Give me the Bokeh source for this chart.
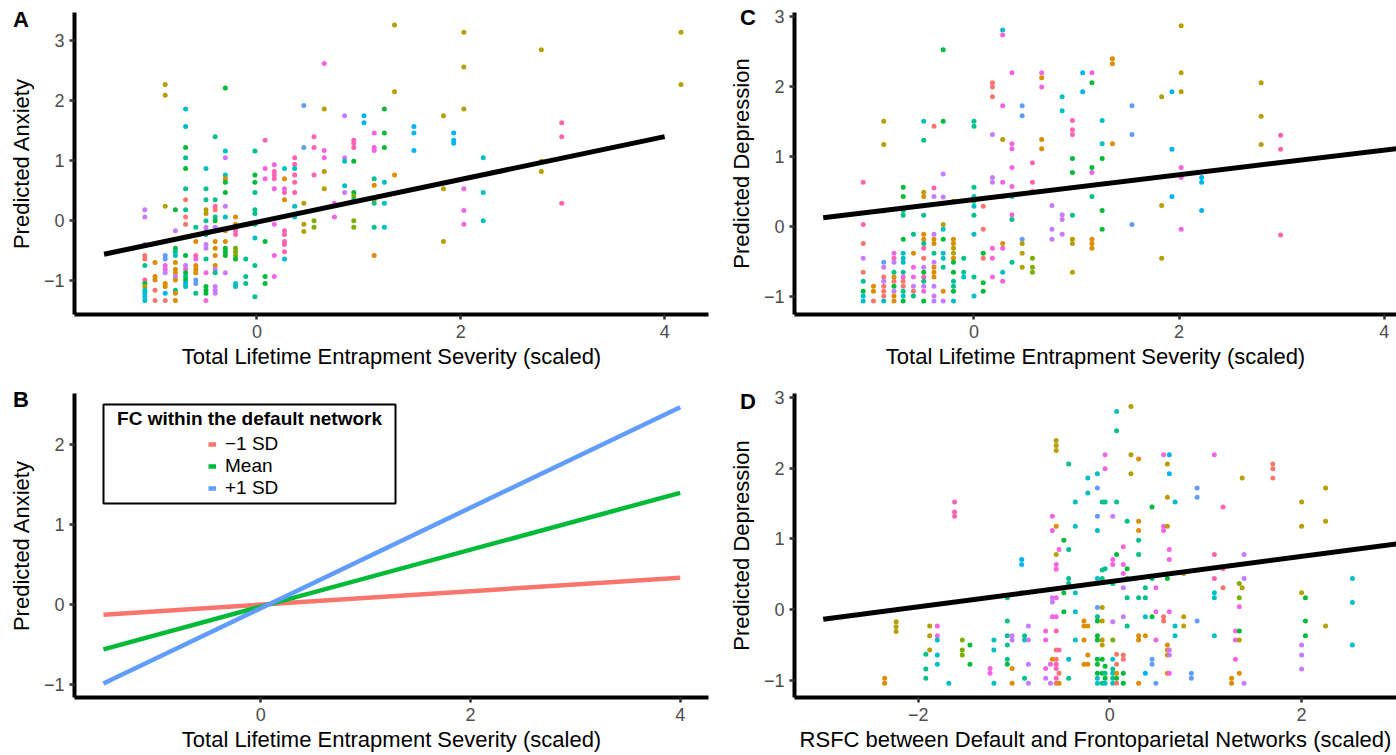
from bokeh.plotting import figure
from bokeh.layouts import column, row
from bokeh.models import (ColumnDataSource, FixedTicker, Label, Legend, LegendItem,
                          BoxAnnotation, Range1d, Div)
from bokeh.embed import file_html
from bokeh.resources import INLINE

FONT = "Liberation Sans"
PALETTE = {"S": "#F8766D", "O": "#DE8C00", "Ol": "#B79F00", "Y": "#7CAE00",
           "G": "#00BA38", "T": "#00C08B", "C": "#00BFC4", "B": "#00B4F0",
           "V": "#619CFF", "L": "#C77CFF", "M": "#F564E3", "P": "#FF64B0"}

# ---------------- Panel A: Predicted Anxiety vs entrapment ----------------
a_x = [
    -1.10, -1.10, -1.10, -1.10, -1.10, -1.10, -1.10, -1.10, -1.10, -1.10, -1.10, -1.10, -1.10,
    -1.00, -1.00, -1.00, -1.00, -1.00,
    -0.90, -0.90, -0.90, -0.90, -0.90, -0.90, -0.90, -0.90, -0.90, -0.90, -0.90, -0.90,
    -0.80, -0.80, -0.80, -0.80, -0.80, -0.80, -0.80, -0.80, -0.80, -0.80, -0.80, -0.80, -0.80,
    -0.70, -0.70, -0.70, -0.70, -0.70, -0.70, -0.70, -0.70, -0.70, -0.70, -0.70, -0.70, -0.70, -0.70, -0.70, -0.70, -0.70, -0.70,
    -0.60, -0.60, -0.60, -0.60, -0.60, -0.60, -0.60, -0.60, -0.60, -0.60,
    -0.50, -0.50, -0.50, -0.50, -0.50, -0.50, -0.50, -0.50, -0.50, -0.50, -0.50, -0.50, -0.50, -0.50, -0.50, -0.50, -0.50,
    -0.41, -0.41, -0.41, -0.41, -0.41, -0.41, -0.41, -0.41, -0.41, -0.41, -0.41, -0.41, -0.41, -0.41, -0.41, -0.41, -0.41,
    -0.31, -0.31, -0.31, -0.31, -0.31, -0.31, -0.31, -0.31, -0.31, -0.31, -0.31, -0.31, -0.31, -0.31, -0.31,
    -0.21, -0.21, -0.21, -0.21, -0.21, -0.21, -0.21, -0.21, -0.21, -0.21,
    -0.11, -0.11, -0.11,
    -0.02, -0.02, -0.02, -0.02, -0.02, -0.02, -0.02, -0.02, -0.02, -0.02,
    0.08, 0.08, 0.08, 0.08, 0.08, 0.08,
    0.17, 0.17, 0.17, 0.17, 0.17, 0.17, 0.17, 0.17,
    0.27, 0.27, 0.27, 0.27, 0.27, 0.27, 0.27, 0.27, 0.27, 0.27, 0.27,
    0.37, 0.37, 0.37, 0.37, 0.37, 0.37, 0.37, 0.37,
    0.46, 0.46, 0.46, 0.46, 0.46,
    0.56, 0.56, 0.56, 0.56, 0.56,
    0.66, 0.66, 0.66, 0.66, 0.66, 0.66,
    0.76, 0.76,
    0.86, 0.86, 0.86, 0.86, 0.86,
    0.95, 0.95, 0.95, 0.95, 0.95, 0.95, 0.95, 0.95, 0.95,
    1.05, 1.05,
    1.15, 1.15, 1.15, 1.15, 1.15, 1.15, 1.15, 1.15, 1.15,
    1.25, 1.25, 1.25, 1.25, 1.25, 1.25,
    1.35, 1.35, 1.35,
    1.54, 1.54, 1.54,
    1.83, 1.83, 1.83,
    1.93, 1.93, 1.93,
    2.03, 2.03, 2.03, 2.03, 2.03, 2.03,
    2.22, 2.22, 2.22,
    2.79, 2.79, 2.79,
    2.99, 2.99, 2.99,
    4.16, 4.16,
]
a_y = [
    0.18, 0.06, -0.40, -0.58, -0.64, -0.75, -0.99, -1.05, -1.10, -1.16, -1.21, -1.27, -1.33,
    -0.70, -0.93, -0.99, -1.16, -1.33,
    2.27, 2.09, 0.24, -0.58, -0.64, -0.75, -0.81, -0.87, -1.05, -1.10, -1.21, -1.33,
    0.18, -0.17, -0.46, -0.52, -0.58, -0.70, -0.81, -0.87, -0.93, -0.99, -1.16, -1.21, -1.33,
    1.86, 1.57, 1.22, 1.05, 0.87, 0.53, 0.35, 0.18, 0.06, -0.06, -0.58, -0.75, -0.81, -0.87, -0.93, -0.99, -1.05, -1.10,
    -0.11, -0.35, -0.58, -0.64, -0.75, -0.81, -0.87, -0.99, -1.05, -1.21,
    0.87, 0.53, 0.35, 0.18, 0.12, 0.00, -0.11, -0.17, -0.23, -0.40, -0.46, -0.64, -0.87, -1.10, -1.16, -1.21, -1.33,
    1.40, 0.35, 0.24, 0.18, 0.06, 0.00, -0.11, -0.17, -0.35, -0.46, -0.58, -0.75, -0.81, -0.87, -1.10, -1.16, -1.21,
    2.21, 1.16, 1.05, 0.76, 0.70, 0.64, 0.47, 0.24, 0.06, -0.17, -0.35, -0.46, -0.52, -0.58, -0.87,
    0.06, -0.06, -0.17, -0.23, -0.46, -0.52, -0.58, -0.64, -1.05, -1.10,
    -0.64, -0.93, -1.05,
    1.16, 0.76, 0.64, 0.47, 0.18, 0.12, -0.06, -0.29, -0.75, -1.27,
    1.34, 0.87, 0.70, -0.35, -0.93, -1.05,
    0.93, 0.82, 0.76, 0.70, 0.53, -0.06, -0.58, -0.93,
    0.87, 0.70, 0.53, 0.47, 0.35, -0.17, -0.23, -0.35, -0.40, -0.52, -0.64,
    1.05, 0.94, 0.87, 0.76, 0.64, 0.47, 0.24, 0.06,
    1.92, 1.22, 0.29, -0.06, -0.18,
    1.40, 1.22, 0.76, 0.00, -0.11,
    2.62, 1.86, 1.17, 1.05, 0.82, 0.53,
    0.29, 0.06,
    1.75, 1.05, 0.99, 0.58, 0.47,
    1.34, 1.29, 1.22, 0.99, 0.47, 0.41, 0.35, 0.00, -0.11,
    1.75, 1.63,
    1.46, 1.22, 1.17, 0.70, 0.59, 0.35, 0.29, -0.11, -0.58,
    1.86, 1.46, 1.22, 0.64, 0.29, -0.11,
    3.26, 2.15, 0.76,
    1.57, 1.46, 1.17,
    1.75, 0.53, -0.35,
    1.46, 1.34, 1.29,
    3.14, 2.56, 1.86, 0.53, 0.17, -0.06,
    1.05, 0.47, 0.00,
    2.85, 0.99, 0.82,
    1.63, 1.40, 0.29,
    3.14, 2.27,
]
a_g = ("L L L S S T P G Ol C C B C "
       "O O O S S "
       "Ol Ol Ol V V M M L O O B S "
       "G L G T C O O O L O T O O "
       "C C G T G T S T S S G L M G T G B C "
       "T O P M O O O V V T "
       "C T T Ol Ol T L L T L L T M G G G M "
       "T T P S T G L M O O O O L T L L L "
       "G C L C O G G L C O O G G G L "
       "O O P P Y Y Y G C C "
       "T T T "
       "T G G T T T T C T T "
       "P M M G G G "
       "M P P P M M M M "
       "C O M P O P P P P P C "
       "P P C P P P C C "
       "V V Ol Ol Ol "
       "P P P Y Y "
       "M Ol M M Ol Ol "
       "M M "
       "L L C C L "
       "P P P G G Y T Y Y "
       "B B "
       "M M M T O Ol T T O "
       "G G G C C C "
       "Ol Ol O "
       "B B B "
       "Ol Ol Ol "
       "B B B "
       "Ol Ol Ol M M M "
       "C C C "
       "Ol Ol Ol "
       "P P P "
       "Ol Ol").split()
a_fit_x = [-1.50, 4.00]
a_fit_y = [-0.56, 1.40]

# ---------------- Panel B: interaction lines ----------------
b_x = [-1.50, 4.00]
b_low_y = [-0.125, 0.336]
b_mean_y = [-0.558, 1.398]
b_high_y = [-0.986, 2.468]
b_labels = ["\u22121 SD", "Mean", "+1 SD"]
b_legend_title = "FC within the default network"

# ---------------- Panel C: Predicted Depression vs entrapment ----------------
c_x = [
    -1.08, -1.08, -1.08, -1.08, -1.08, -1.08, -1.08, -1.08, -1.08,
    -0.98, -0.98, -0.98,
    -0.88, -0.88, -0.88, -0.88, -0.88, -0.88, -0.88, -0.88, -0.88, -0.88, -0.88,
    -0.78, -0.78, -0.78, -0.78, -0.78, -0.78, -0.78, -0.78, -0.78, -0.78,
    -0.69, -0.69, -0.69, -0.69, -0.69, -0.69, -0.69, -0.69, -0.69, -0.69, -0.69, -0.69, -0.69, -0.69, -0.69,
    -0.59, -0.59, -0.59, -0.59, -0.59, -0.59, -0.59,
    -0.49, -0.49, -0.49, -0.49, -0.49, -0.49, -0.49, -0.49, -0.49, -0.49, -0.49, -0.49, -0.49, -0.49, -0.49, -0.49, -0.49,
    -0.39, -0.39, -0.39, -0.39, -0.39, -0.39, -0.39, -0.39, -0.39, -0.39, -0.39, -0.39, -0.39, -0.39,
    -0.30, -0.30, -0.30, -0.30, -0.30, -0.30, -0.30, -0.30, -0.30, -0.30, -0.30, -0.30,
    -0.20, -0.20, -0.20, -0.20, -0.20, -0.20, -0.20, -0.20, -0.20, -0.20, -0.20, -0.20,
    -0.10, -0.10, -0.10,
    0.00, 0.00, 0.00, 0.00, 0.00, 0.00, 0.00, 0.00, 0.00, 0.00,
    0.09, 0.09, 0.09, 0.09, 0.09, 0.09,
    0.18, 0.18, 0.18, 0.18, 0.18, 0.18, 0.18, 0.18, 0.18,
    0.28, 0.28, 0.28, 0.28, 0.28, 0.28, 0.28, 0.28, 0.28, 0.28,
    0.37, 0.37, 0.37, 0.37, 0.37, 0.37, 0.37, 0.37, 0.37,
    0.47, 0.47, 0.47, 0.47, 0.47, 0.47,
    0.57, 0.57, 0.57, 0.57, 0.57, 0.57,
    0.66, 0.66, 0.66, 0.66, 0.66,
    0.76, 0.76, 0.76,
    0.86, 0.86, 0.86, 0.86, 0.86,
    0.96, 0.96, 0.96, 0.96, 0.96, 0.96, 0.96, 0.96, 0.96,
    1.06, 1.06,
    1.15, 1.15, 1.15, 1.15, 1.15, 1.15, 1.15, 1.15,
    1.25, 1.25, 1.25, 1.25, 1.25,
    1.35, 1.35, 1.35,
    1.54, 1.54, 1.54,
    1.83, 1.83, 1.83,
    1.93, 1.93, 1.93,
    2.02, 2.02, 2.02, 2.02, 2.02, 2.02,
    2.22, 2.22, 2.22,
    2.80, 2.80, 2.80,
    2.99, 2.99, 2.99,
]
c_y = [
    0.63, 0.03, -0.24, -0.45, -0.65, -0.78, -0.92, -0.99, -1.06,
    -0.85, -0.92, -1.06,
    1.50, 1.17, 0.22, -0.51, -0.58, -0.72, -0.78, -0.85, -0.92, -0.99, -1.06,
    -0.38, -0.45, -0.51, -0.65, -0.72, -0.78, -0.85, -0.92, -0.99, -1.06,
    0.56, 0.43, 0.23, 0.16, -0.18, -0.38, -0.45, -0.51, -0.65, -0.72, -0.78, -0.85, -0.92, -0.99, -1.06,
    -0.11, -0.38, -0.58, -0.72, -0.85, -0.92, -0.99,
    1.50, 1.23, 0.49, 0.43, 0.16, -0.11, -0.18, -0.24, -0.31, -0.45, -0.58, -0.65, -0.72, -0.78, -0.85, -0.92, -1.06,
    1.43, 0.55, 0.43, -0.11, -0.18, -0.24, -0.38, -0.51, -0.58, -0.65, -0.72, -0.85, -0.99, -1.06,
    2.52, 1.50, 0.75, 0.42, 0.03, -0.04, -0.18, -0.38, -0.45, -0.58, -0.92, -1.06,
    0.36, -0.18, -0.24, -0.31, -0.38, -0.45, -0.51, -0.65, -0.78, -0.85, -0.92, -1.06,
    -0.45, -0.65, -0.72,
    1.50, 1.43, 0.56, 0.43, 0.36, 0.29, 0.16, -0.11, -0.72, -0.99,
    0.29, -0.04, -0.38, -0.45, -0.80, -0.92,
    2.05, 1.99, 1.85, 1.31, 0.70, 0.63, -0.31, -0.45, -0.72,
    2.80, 2.73, 1.72, 1.24, 0.63, 0.43, -0.24, -0.31, -0.65, -0.78,
    2.19, 1.18, 1.11, 0.84, 0.57, 0.43, 0.17, 0.10, -0.51,
    1.72, 1.58, -0.18, -0.24, -0.38, -0.58,
    0.91, 0.63, 0.50, -0.45, -0.58, -0.65,
    2.19, 2.12, 1.99, 1.24, 1.11,
    0.30, -0.04, -0.18,
    1.85, 1.65, 0.17, 0.10, -0.11,
    1.51, 1.38, 1.31, 0.97, 0.77, 0.16, -0.18, -0.24, -0.65,
    2.19, 1.92,
    2.19, 2.05, 0.84, 0.77, 0.43, -0.18, -0.24, -0.31,
    1.51, 1.18, 0.97, 0.23, -0.04,
    2.39, 2.32, 1.18,
    1.72, 1.31, 0.03,
    1.85, 0.30, -0.45,
    1.92, 1.10, 0.43,
    2.86, 2.19, 1.92, 0.84, 0.70, -0.04,
    0.70, 0.63, 0.23,
    2.05, 1.57, 1.17,
    1.30, 1.10, -0.12,
]
c_g = ("P P S L S T G C C "
       "O O S "
       "Ol Ol Ol V L S L S S S C "
       "M P L T O S G L O O "
       "G G T T G C C C T M S S T C G "
       "T O M M L S T "
       "C T Ol O T O O T P S L G P T L M G "
       "S P L L O O T L O O O L L L "
       "G G L L Ol C G C C T O L "
       "Ol O O Ol Ol O G G T T G C "
       "T T C "
       "T T T C T C T C T C "
       "S S G S G G "
       "S S S L L L M M M "
       "C M M Ol M S O M C M "
       "M M M M M C M T T "
       "V V V Ol Ol Ol "
       "P P P Y Y Y "
       "M O M O O "
       "L L L "
       "C C L L L "
       "P P P G G T Ol Ol Ol "
       "B B "
       "M G G M T O O O "
       "C C G G G "
       "O O O "
       "V V V "
       "Ol Ol Ol "
       "B B B "
       "Ol Ol Ol M M M "
       "B B B "
       "Ol Ol Ol "
       "P P P").split()
c_fit_x = [-1.47, 4.16]
c_fit_y = [0.127, 1.118]

# ---------------- Panel D: Predicted Depression vs RSFC ----------------
d_x = [
    -2.35, -2.35,
    -2.23, -2.23, -2.23,
    -1.92, -1.92, -1.92,
    -1.88, -1.88, -1.88,
    -1.80, -1.80, -1.80, -1.80, -1.80,
    -1.68,
    -1.62, -1.62, -1.62,
    -1.54, -1.54, -1.54,
    -1.46, -1.46,
    -1.25, -1.25,
    -1.21, -1.21, -1.21,
    -1.07, -1.07, -1.07, -1.07, -1.07, -1.07,
    -1.02, -1.02, -1.02, -1.02,
    -0.92, -0.92, -0.92,
    -0.89, -0.89, -0.89,
    -0.85, -0.85, -0.85, -0.85,
    -0.67, -0.67, -0.67, -0.67,
    -0.62, -0.62,
    -0.60, -0.60, -0.60, -0.60, -0.60, -0.60,
    -0.56, -0.56, -0.56, -0.56, -0.56, -0.56, -0.56, -0.56, -0.56, -0.56, -0.56, -0.56, -0.56, -0.56, -0.56, -0.56,
    -0.53, -0.53, -0.53, -0.53,
    -0.48, -0.48, -0.48,
    -0.43, -0.43, -0.43, -0.43, -0.43, -0.43,
    -0.36, -0.36, -0.36, -0.36, -0.36,
    -0.27, -0.27, -0.27, -0.27,
    -0.23, -0.23, -0.23, -0.23, -0.23,
    -0.13, -0.13, -0.13, -0.13, -0.13, -0.13, -0.13, -0.13, -0.13, -0.13, -0.13, -0.13, -0.13, -0.13, -0.13,
    -0.08, -0.08, -0.08, -0.08, -0.08, -0.08, -0.08, -0.08, -0.08, -0.08,
    -0.05, -0.05, -0.05, -0.05, -0.05, -0.05, -0.05, -0.05,
    0.03, 0.03, 0.03, 0.03, 0.03, 0.03, 0.03, 0.03, 0.03, 0.03, 0.03,
    0.07, 0.07, 0.07, 0.07, 0.07, 0.07, 0.07, 0.07, 0.07,
    0.14, 0.14, 0.14, 0.14, 0.14, 0.14, 0.14, 0.14, 0.14,
    0.18, 0.18, 0.18, 0.18, 0.18,
    0.22, 0.22, 0.22,
    0.30, 0.30, 0.30, 0.30, 0.30, 0.30, 0.30, 0.30, 0.30,
    0.37, 0.37, 0.37, 0.37, 0.37,
    0.44, 0.44, 0.44, 0.44, 0.44,
    0.48, 0.48, 0.48, 0.48,
    0.56, 0.56, 0.56, 0.56, 0.56,
    0.60, 0.60, 0.60, 0.60, 0.60, 0.60, 0.60, 0.60,
    0.62, 0.62, 0.62, 0.62, 0.62, 0.62, 0.62, 0.62,
    0.68, 0.68, 0.68,
    0.77, 0.77, 0.77,
    0.85, 0.85,
    0.91, 0.91, 0.91,
    1.09, 1.09, 1.09, 1.09, 1.09, 1.09,
    1.18, 1.18, 1.18,
    1.27, 1.27,
    1.31, 1.31, 1.31,
    1.35, 1.35, 1.35, 1.35, 1.35, 1.35, 1.35,
    1.38, 1.38,
    1.40, 1.40, 1.40,
    1.70, 1.70, 1.70,
    2.00, 2.00, 2.00, 2.00, 2.00, 2.00,
    2.04, 2.04, 2.04,
    2.25, 2.25, 2.25,
    2.53, 2.53, 2.53,
]
d_y = [
    -0.97, -1.04,
    -0.17, -0.24, -0.31,
    -0.63, -0.84, -0.97,
    -0.23, -0.37, -0.57,
    -0.23, -0.37, -0.43, -0.64, -0.77,
    -1.04,
    1.52, 1.38, 1.32,
    -0.43, -0.57, -0.64,
    -0.50, -0.77,
    -0.83, -0.90,
    -0.43, -0.57, -1.04,
    0.17, -0.16, -0.37, -0.50, -0.70, -0.77,
    -0.37, -0.43, -0.83, -1.04,
    0.71, 0.64, 0.24,
    -0.37, -0.43, -0.97,
    -0.23, -0.43, -0.77, -1.04,
    -0.30, -0.43, -0.83, -0.97,
    -0.77, -1.04,
    1.32, 1.12, 0.17, 0.11, -0.10, -0.70,
    2.39, 2.32, 2.25, 1.18, 0.78, 0.64, 0.57, 0.17, -0.10, -0.30, -0.57, -0.70, -0.77, -0.83, -0.97, -1.04,
    0.85, -0.57, -0.90, -1.04,
    0.98, 0.24, -0.03,
    2.06, 0.85, 0.44, 0.37, -0.70, -0.97,
    1.52, 1.18, 0.24, -0.03, -0.43,
    -0.16, -0.23, -0.43, -0.77,
    1.86, 1.65, -0.23, -0.64, -0.77,
    1.92, 1.72, 1.32, 1.12, 0.44, 0.03, -0.10, -0.16, -0.37, -0.43, -0.70, -0.77, -0.90, -0.97, -1.04,
    1.52, 0.56, 0.44, 0.03, -0.16, -0.43, -0.50, -0.70, -0.90, -1.04,
    2.19, 1.99, 1.52, 0.58, -0.80, -0.90, -0.97, -1.04,
    1.32, 0.71, 0.64, 0.37, -0.17, -0.43, -0.70, -0.84, -0.90, -0.97, -1.04,
    2.80, 2.53, 1.52, 0.78, -0.63, -0.77, -0.90, -0.97, -1.04,
    0.89, 0.64, 0.51, 0.31, -0.10, -0.64, -0.70, -0.90, -1.04,
    1.25, 0.58, 0.44, 0.17, -0.23,
    2.87, 2.19, 1.92,
    2.13, 1.25, 1.12, 0.98, 0.78, 0.17, -0.37, -0.43, -1.04,
    0.31, 0.17, -0.10, -0.37, -0.90,
    1.45, 0.44, -0.10, -0.70, -0.77,
    0.31, -0.03, -0.43, -1.04,
    2.19, 1.18, 1.12, -0.10, -0.16,
    2.06, 1.59, 1.18, 0.44, -0.50, -0.57, -0.64, -0.90,
    2.19, 1.92, 0.85, 0.71, -0.03, -0.57, -0.64, -0.90,
    1.52, -0.23, -0.37,
    0.51, -0.10, -0.23,
    -0.90, -0.97,
    1.72, 1.59, -0.16,
    2.19, 0.78, 0.44, 0.24, 0.17, -0.37,
    1.45, 0.58, 0.31,
    -0.97, -1.04,
    -0.30, -0.43, -0.70,
    0.64, 0.37, 0.17, 0.04, -0.30, -0.43, -0.90,
    1.86, 0.31,
    0.78, 0.44, -1.04,
    2.06, 1.99, 1.86,
    1.52, 1.18, 0.24, -0.50, -0.64, -0.84,
    0.17, -0.16, -0.37,
    1.72, 1.25, -0.23,
    0.44, 0.10, -0.50,
]
d_g = ("O O "
       "Ol Ol Ol "
       "T T T "
       "Ol Ol Ol "
       "M M C C C "
       "C "
       "P P P "
       "Y Y Y "
       "G G "
       "M M "
       "C C C "
       "T T T T T G "
       "L L O O "
       "B B B "
       "T C T "
       "L L L L "
       "M M M L "
       "M L "
       "M M L L M O "
       "Ol Ol Ol O Ol M M M M P S S P P P S "
       "M P S O "
       "G G G "
       "T T T T C T "
       "C C C C C "
       "O O O O "
       "C C O O O "
       "C V V C C V T G G G G G G C C "
       "T T T Ol Ol Ol Ol G G T "
       "M M T T G T G C "
       "L M M T L Y C T C T C "
       "C T T G S S O G S "
       "M M M L L S S G G "
       "T G G T T "
       "Ol Ol Ol "
       "O O O T T T O O O "
       "T T C O B "
       "G T G V V "
       "M M M V "
       "M M M S S "
       "Ol Ol Ol G O O O O "
       "B B M M M L L M "
       "C C C "
       "Ol Ol Ol "
       "V V "
       "V V V "
       "M P P C C C "
       "P P S "
       "O O "
       "M M M "
       "M Y Y M G Ol O "
       "Ol Ol "
       "L L L "
       "S S S "
       "Ol Ol Ol L L L "
       "G G G "
       "Ol Ol Ol "
       "C C C").split()
d_fit_x = [-2.99, 3.00]
d_fit_y = [-0.135, 0.930]

# ---------------- axis texts / ticks ----------------
x_label_entrap = "Total Lifetime Entrapment Severity (scaled)"
x_label_rsfc = "RSFC between Default and Frontoparietal Networks (scaled)"
y_label_anx = "Predicted Anxiety"
y_label_dep = "Predicted Depression"
ticks_x_entrap = [0, 2, 4]
ticks_x_rsfc = [-2, 0, 2]
ticks_y_a = [-1, 0, 1, 2, 3]
ticks_y_b = [-1, 0, 1, 2]
ticks_y_cd = [-1, 0, 1, 2, 3]
panel_letters = ["A", "B", "C", "D"]

for xs, ys, gs in ((a_x, a_y, a_g), (c_x, c_y, c_g), (d_x, d_y, d_g)):
    assert len(xs) == len(ys) == len(gs), (len(xs), len(ys), len(gs))


def make_fig(width, height, mbl, mbr, mbt, mbb, xr, yr):
    p = figure(width=width, height=height, x_range=Range1d(*xr), y_range=Range1d(*yr),
               output_backend="svg", toolbar_location=None, tools="",
               min_border_left=mbl, min_border_right=mbr,
               min_border_top=mbt, min_border_bottom=mbb)
    p.xgrid.visible = False
    p.ygrid.visible = False
    p.outline_line_color = None
    p.background_fill_color = "white"
    p.border_fill_color = "white"
    return p


def style_axes(p, xlabel, ylabel, xticks, yticks, xover=None):
    p.xaxis.axis_label = xlabel
    p.yaxis.axis_label = ylabel
    p.xaxis.ticker = FixedTicker(ticks=xticks)
    p.yaxis.ticker = FixedTicker(ticks=yticks)
    p.yaxis.major_label_overrides = {-1: "\u22121"}
    if xover:
        p.xaxis.major_label_overrides = xover
    for ax in (p.xaxis[0], p.yaxis[0]):
        ax.axis_line_width = 4
        ax.axis_line_color = "black"
        ax.major_tick_line_width = 2.5
        ax.major_tick_line_color = "#333333"
        ax.major_tick_out = 5
        ax.major_tick_in = 0
        ax.minor_tick_line_color = None
        ax.major_label_text_font = FONT
        ax.major_label_text_font_size = "18px"
        ax.major_label_text_color = "#4D4D4D"
        ax.major_label_standoff = 5
        ax.axis_label_text_font = FONT
        ax.axis_label_text_font_size = "22px"
        ax.axis_label_text_font_style = "normal"
        ax.axis_label_text_color = "black"
    p.xaxis.axis_label_standoff = 3
    p.yaxis.axis_label_standoff = 7


def letter_div(letter, left, top):
    return Div(text=letter, width=26, height=26,
               styles={"position": "absolute", "left": f"{left}px", "top": f"{top}px",
                       "font-family": FONT, "font-weight": "bold", "font-size": "22px",
                       "line-height": "22px", "color": "black", "z-index": "10"})


def scatter_panel(p, xs, ys, gs, fx, fy):
    src = ColumnDataSource(dict(x=xs, y=ys, c=[PALETTE[g] for g in gs]))
    p.scatter("x", "y", source=src, size=5, fill_color="c", line_color=None)
    p.line(fx, fy, line_color="black", line_width=5)


TOP_H, BOT_H = 375, 380
LEFT_W, RIGHT_W = 718, 678

pA = make_fig(LEFT_W, TOP_H, 74, 10, 12, 61, (-1.79, 4.43), (-1.565, 3.47))
scatter_panel(pA, a_x, a_y, a_g, a_fit_x, a_fit_y)
style_axes(pA, x_label_entrap, y_label_anx, ticks_x_entrap, ticks_y_a)

pC = make_fig(RIGHT_W, TOP_H, 76, 0, 12, 61, (-1.75, 4.12), (-1.253, 3.05))
scatter_panel(pC, c_x, c_y, c_g, c_fit_x, c_fit_y)
style_axes(pC, x_label_entrap, y_label_dep, ticks_x_entrap, ticks_y_cd)

pB = make_fig(LEFT_W, BOT_H, 74, 10, 18, 58, (-1.776, 4.27), (-1.16, 2.64))
r_low = pB.line(b_x, b_low_y, line_color="#F8766D", line_width=4.5)
r_mean = pB.line(b_x, b_mean_y, line_color="#00BA38", line_width=4.5)
r_high = pB.line(b_x, b_high_y, line_color="#619CFF", line_width=4.5)
style_axes(pB, x_label_entrap, y_label_anx, ticks_x_entrap, ticks_y_b)
FH_B = BOT_H - 18 - 58
pB.add_layout(BoxAnnotation(left=29, right=321, top=FH_B - 11, bottom=FH_B - 110,
                            left_units="screen", right_units="screen",
                            top_units="screen", bottom_units="screen",
                            fill_alpha=0, line_color="black", line_alpha=1.0,
                            line_width=2))
pB.add_layout(Label(x=175, y=FH_B - 25, x_units="screen", y_units="screen",
                    text=b_legend_title, text_font=FONT, text_font_style="bold",
                    text_font_size="19px", text_align="center", text_baseline="middle",
                    text_color="black"))
legend = Legend(items=[LegendItem(label=b_labels[0], renderers=[r_low]),
                       LegendItem(label=b_labels[1], renderers=[r_mean]),
                       LegendItem(label=b_labels[2], renderers=[r_high])],
                location=(134, FH_B - 106), orientation="vertical",
                border_line_color=None, background_fill_alpha=0,
                padding=0, spacing=0, margin=0, glyph_width=8, glyph_height=20,
                label_height=20, label_standoff=9, label_text_font=FONT,
                label_text_font_size="19px", label_text_color="black")
pB.add_layout(legend)

pD = make_fig(RIGHT_W, BOT_H, 76, 0, 18, 58, (-3.29, 2.99), (-1.241, 3.055))
scatter_panel(pD, d_x, d_y, d_g, d_fit_x, d_fit_y)
style_axes(pD, x_label_rsfc, y_label_dep, ticks_x_rsfc, ticks_y_cd, xover={-2: "\u22122"})

layout = column(row(pA, pC), row(pB, pD),
                letter_div(panel_letters[0], 8, 4),
                letter_div(panel_letters[1], 8, 384),
                letter_div(panel_letters[2], 735, 2),
                letter_div(panel_letters[3], 735, 386))
open("out.html", "w").write(file_html(layout, INLINE))
